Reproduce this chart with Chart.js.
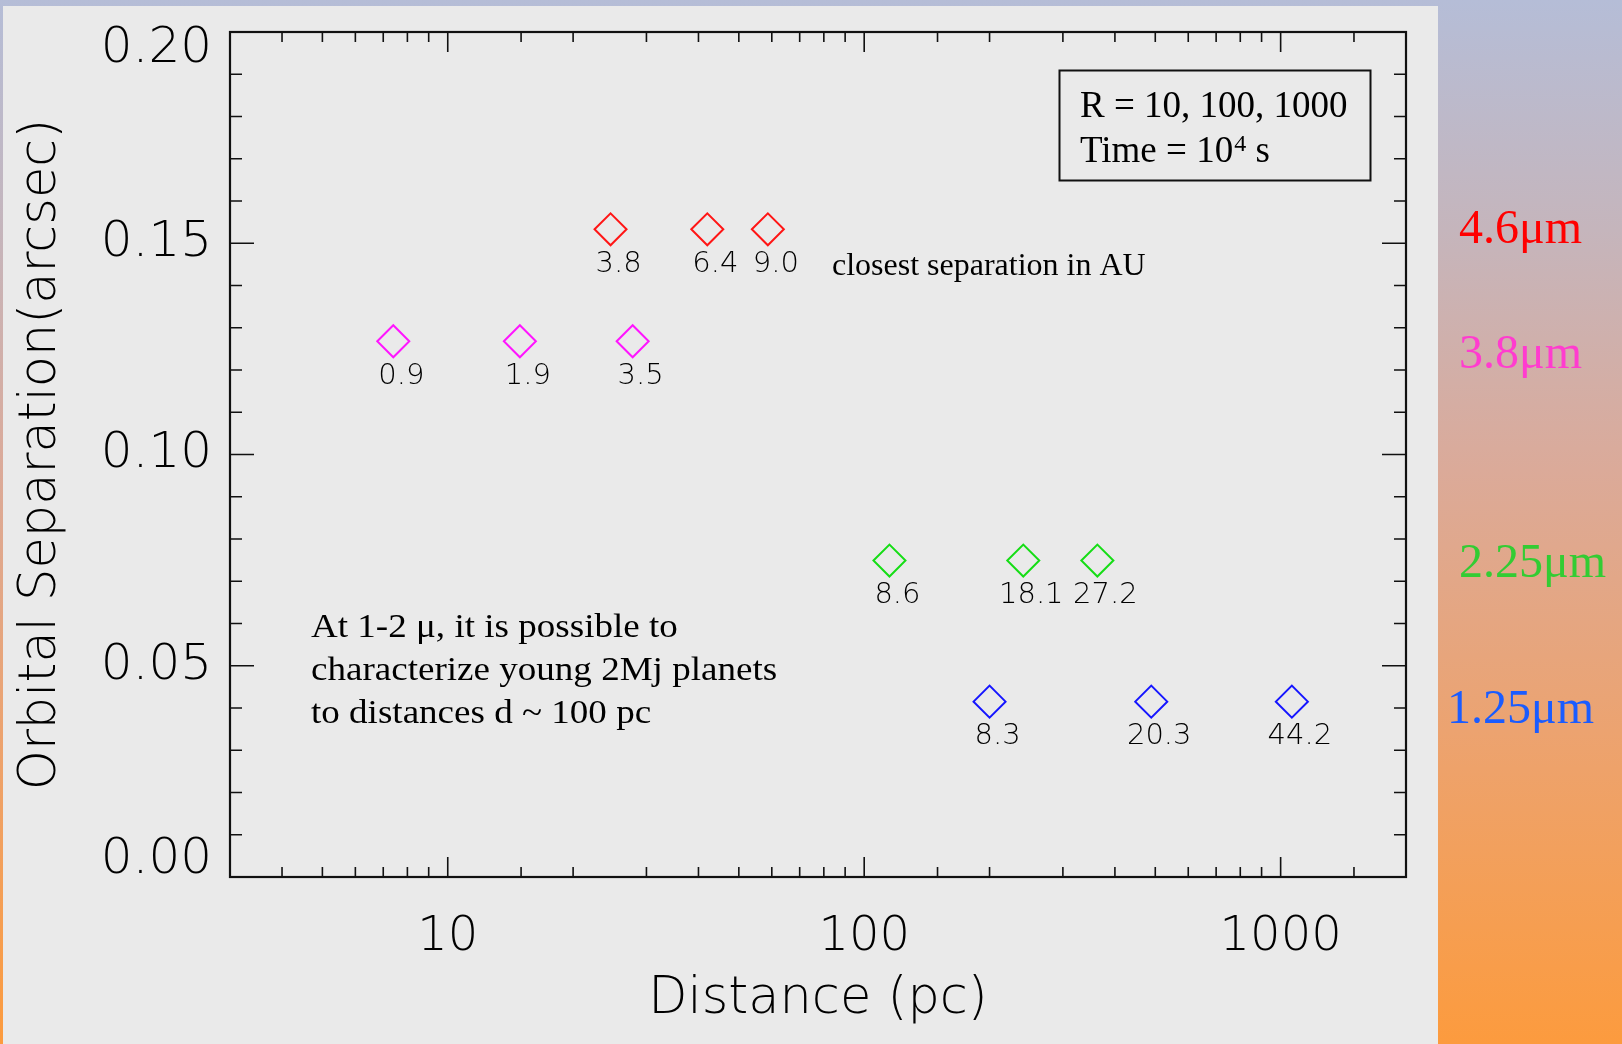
<!DOCTYPE html>
<html>
<head>
<meta charset="utf-8">
<title>Orbital separation vs distance</title>
<script src="https://cdn.jsdelivr.net/npm/chart.js@4.4.1/dist/chart.umd.min.js"></script>
<style>
  html, body { margin: 0; padding: 0; }
  body {
    width: 1622px; height: 1044px; overflow: hidden; position: relative;
    background: linear-gradient(to bottom, #b5bdd7 0%, #c5b5bc 22%, #dbaa99 45%, #eca370 70%, #fc9b3e 100%);
  }
  #panel { position: absolute; left: 3px; top: 6px; width: 1435px; height: 1038px; background: #eaeaea; }
  #chart { position: absolute; left: 0; top: 0; }
</style>
</head>
<body>
<div id="panel"></div>
<canvas id="chart" width="1622" height="1044"></canvas>
<script>
// wavelength bands
const bandNames = ['4.6μm', '3.8μm', '2.25μm', '1.25μm'];
const bandTextColors = ['#ff0000', '#ff3ccf', '#33cc33', '#1a5cff'];
const markColors = ['#ff1515', '#ff15ff', '#15dd15', '#1515ff'];

// distance (pc), orbital separation (arcsec), closest separation (AU)
const dist46 = [24.6, 42.0, 58.7];
const sep46 = [0.1533, 0.1533, 0.1533];
const au46 = ['3.8', '6.4', '9.0'];

const dist38 = [7.4, 14.9, 27.8];
const sep38 = [0.1268, 0.1268, 0.1268];
const au38 = ['0.9', '1.9', '3.5'];

const dist225 = [115, 241, 363];
const sep225 = [0.0749, 0.0749, 0.0749];
const au225 = ['8.6', '18.1', '27.2'];

const dist125 = [200, 489, 1064];
const sep125 = [0.0415, 0.0415, 0.0415];
const au125 = ['8.3', '20.3', '44.2'];

const xTickLabels = [10, 100, 1000];
const yTickLabels = ['0.00', '0.05', '0.10', '0.15', '0.20'];

const noteLines = ['At 1-2 μ, it is possible to', 'characterize young 2Mj planets', 'to distances d ~ 100 pc'];

const idlFont = '"DejaVu Sans", sans-serif';
const serif = '"Liberation Serif", "Times New Roman", serif';

const series = [[dist46, sep46, au46], [dist38, sep38, au38], [dist225, sep225, au225], [dist125, sep125, au125]];

const datasets = series.map(([d, s, au], i) => ({
  label: bandNames[i],
  data: d.map((x, j) => ({ x: x, y: s[j] })),
  au: au,
  showLine: false,
  pointStyle: 'rectRot',
  pointRadius: 16,
  pointBorderWidth: 2,
  borderColor: markColors[i],
  backgroundColor: 'rgba(0,0,0,0)'
}));

// frame with inward ticks on all four sides
const idlAxes = {
  id: 'idlAxes',
  afterDatasetsDraw(chart) {
    const { ctx, chartArea: a, scales: { x, y } } = chart;
    ctx.save();
    ctx.strokeStyle = '#111';
    ctx.lineWidth = 1.6;
    ctx.beginPath();
    x.ticks.forEach(t => {
      const px = x.getPixelForValue(t.value);
      if (px <= a.left + 1 || px >= a.right - 1) return;
      const lg = Math.log10(t.value);
      const len = Math.abs(lg - Math.round(lg)) < 1e-6 ? 20 : 10;
      ctx.moveTo(px, a.bottom); ctx.lineTo(px, a.bottom - len);
      ctx.moveTo(px, a.top); ctx.lineTo(px, a.top + len);
    });
    y.ticks.forEach(t => {
      const py = y.getPixelForValue(t.value);
      if (py <= a.top + 1 || py >= a.bottom - 1) return;
      const len = Math.round(t.value * 100) % 5 === 0 ? 24 : 12;
      ctx.moveTo(a.left, py); ctx.lineTo(a.left + len, py);
      ctx.moveTo(a.right, py); ctx.lineTo(a.right - len, py);
    });
    ctx.stroke();
    ctx.lineWidth = 2.2;
    ctx.strokeRect(a.left, a.top, a.right - a.left, a.bottom - a.top);
    ctx.restore();
  }
};

// AU labels under each point, notes, box and band names
const notes = {
  id: 'notes',
  afterDraw(chart) {
    const ctx = chart.ctx;
    ctx.save();
    ctx.fillStyle = '#000';
    ctx.font = '200 29px ' + idlFont;
    ctx.textAlign = 'center';
    ctx.textBaseline = 'middle';
    chart.data.datasets.forEach((ds, i) => {
      chart.getDatasetMeta(i).data.forEach((pt, j) => {
        ctx.fillText(ds.au[j], pt.x + 8, pt.y + 35);
      });
    });

    ctx.textAlign = 'left';
    ctx.textBaseline = 'alphabetic';
    ctx.font = '32px ' + serif;
    ctx.fillText('closest separation in AU', 832, 275);

    ctx.font = '34px ' + serif;
    noteLines.forEach((line, k) => {
      ctx.save();
      ctx.translate(311, 637 + k * 43);
      ctx.scale(1.09, 1);
      ctx.fillText(line, 0, 0);
      ctx.restore();
    });

    // R / exposure box
    ctx.lineWidth = 2;
    ctx.strokeStyle = '#111';
    ctx.strokeRect(1059.5, 70.5, 311, 110);
    ctx.font = '37px ' + serif;
    ctx.fillText('R = 10, 100, 1000', 1080, 117);
    const head = 'Time = 10';
    ctx.fillText(head, 1080, 162);
    let cx = 1080 + ctx.measureText(head).width + 1;
    ctx.font = '24px ' + serif;
    ctx.fillText('4', cx, 151);
    cx += ctx.measureText('4').width;
    ctx.font = '37px ' + serif;
    ctx.fillText(' s', cx, 162);

    // band names beside the frame
    const bandX = [1459, 1459, 1459, 1447];
    const bandY = [243, 368, 577, 723];
    ctx.font = '48px ' + serif;
    bandNames.forEach((name, i) => {
      ctx.fillStyle = bandTextColors[i];
      ctx.fillText(name, bandX[i], bandY[i]);
    });
    ctx.restore();
  }
};

new Chart(document.querySelector('#chart'), {
  type: 'scatter',
  data: { datasets: datasets },
  options: {
    responsive: false,
    animation: false,
    events: [],
    layout: { padding: { left: 0, top: 32, right: 216, bottom: 0 } },
    plugins: { legend: { display: false }, tooltip: { enabled: false } },
    scales: {
      x: {
        type: 'logarithmic',
        min: 3,
        max: 2000,
        grid: { display: false, drawTicks: false },
        border: { display: false },
        ticks: {
          autoSkip: false,
          maxRotation: 0,
          padding: 32,
          color: '#000',
          font: { family: idlFont, size: 48, weight: '200' },
          callback: v => {
            const t = xTickLabels.find(n => Math.abs(n - v) < 1e-6);
            return t ? String(t) : '';
          }
        },
        title: {
          display: true,
          text: 'Distance (pc)',
          color: '#000',
          font: { family: idlFont, size: 51, weight: '200' },
          padding: { top: 0, bottom: 14 }
        },
        afterFit: s => { s.height = 167; s.paddingLeft = 0; s.paddingRight = 0; }
      },
      y: {
        min: 0,
        max: 0.2,
        grid: { display: false, drawTicks: false },
        border: { display: false },
        ticks: {
          stepSize: 0.01,
          autoSkip: false,
          padding: 18,
          color: '#000',
          font: { family: idlFont, size: 50, weight: '200', lineHeight: 0.68 },
          callback: v => {
            const c = Math.round(v * 100);
            if (c % 5) return '';
            const s = yTickLabels[c / 5];
            if (c === 20) return ['', s];
            if (c === 0) return [s, ''];
            return s;
          }
        },
        title: {
          display: true,
          text: 'Orbital Separation(arcsec)',
          color: '#000',
          font: { family: idlFont, size: 51, weight: '200' },
          padding: { top: 11, bottom: 0 }
        },
        afterFit: s => { s.width = 230; s.paddingTop = 0; s.paddingBottom = 0; }
      }
    }
  },
  plugins: [idlAxes, notes]
});
</script>
</body>
</html>
